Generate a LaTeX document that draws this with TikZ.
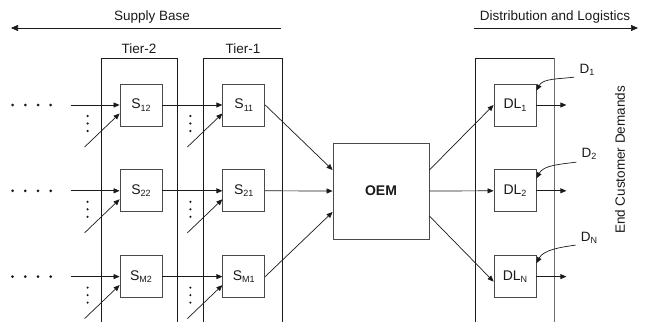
\documentclass[tikz,border=0pt]{standalone}
\usepackage{fontspec}
\setmainfont{Liberation Sans}
\usepackage{tikz}
\usetikzlibrary{arrows.meta, positioning, calc}
\definecolor{boxgray}{HTML}{4A4A4A}
\definecolor{linedark}{HTML}{1A1A1A}
\newcommand{\idx}[1]{\raisebox{-0.35ex}{\fontsize{9}{9}\selectfont #1}}
\tikzstyle{firm} = [rectangle, minimum width=42pt, minimum height=42pt, inner sep=0pt, draw=boxgray, line width=0.8pt, fill=white, text=linedark, font=\fontsize{14}{16}\selectfont]
\tikzstyle{hub} = [firm, minimum width=96pt, minimum height=96pt, font=\fontsize{14}{16}\selectfont\bfseries]
\tikzstyle{headtext} = [inner sep=0pt, text=linedark, font=\fontsize{13.5}{16}\selectfont]
\tikzstyle{arrow} = [line width=0.7pt, -{Triangle[length=6pt,width=5pt]}, color=linedark]
\tikzstyle{tier} = [line width=0.8pt, draw=linedark]

\begin{document}
\begin{tikzpicture}[x=1pt, y=1pt]
    \useasboundingbox (0,0) rectangle (645,322);

    % Banners
    \node[headtext] (sb) at (152,305) {Supply Base};
    \coordinate (sbR) at (281,294);
    \coordinate (sbL) at (11,294);
    \draw[arrow, -{Triangle[length=7pt,width=6pt]}] (sbR) -- (sbL);
    \node[headtext] (dist) at (555,305) {Distribution and Logistics};
    \coordinate (distL) at (474,294);
    \coordinate (distR) at (638,294);
    \draw[arrow, -{Triangle[length=7pt,width=6pt]}] (distL) -- (distR);

    % Tier columns
    \draw[tier] (101,0) -- (101,264) -- (177,264) -- (177,0);
    \draw[tier] (203,0) -- (203,264) -- (282,264) -- (282,0);
    \draw[tier] (475,0) -- (475,264) -- (554,264);
    \draw[tier, draw=boxgray!80] (554,264) -- (554,0);
    \node[headtext] (t2) at (139,273) {Tier-2};
    \node[headtext] (t1) at (243,273) {Tier-1};

    % Suppliers
    \node[firm] (s12) at (141,217) {S\idx{12}};
    \node[firm, right=60pt of s12] (s11) {S\idx{11}};
    \node[firm, below=43pt of s12] (s22) {S\idx{22}};
    \node[firm, right=60pt of s22] (s21) {S\idx{21}};
    \node[firm, below=43pt of s22] (sm2) {S\idx{M2}};
    \node[firm, right=60pt of sm2] (sm1) {S\idx{M1}};

    % OEM
    \node[hub] (oem) at (381,131) {OEM};

    % Distribution and logistics
    \node[firm] (dl1) at (515,217) {DL\idx{1}};
    \node[firm, below=43pt of dl1] (dl2) {DL\idx{2}};
    \node[firm, below=43pt of dl2] (dlN) {DL\idx{N}};

    % Demands
    \node[headtext] (d1) at (587,252) {D\idx{1}};
    \node[headtext] (d2) at (589,168) {D\idx{2}};
    \node[headtext] (dn) at (589,84) {D\idx{N}};
    \node[headtext, rotate=90] (ecd) at (620,162) {End Customer Demands};

    % Upstream inputs
    \foreach \a in {s12,s22,sm2} {
        \foreach \k in {0,...,3}
            \fill[linedark] ($(\a.west)+(-107+12.7*\k,0)$) circle (1.5pt);
        \coordinate (\a-in) at ($(\a.west)+(-49,0)$);
        \draw[arrow] (\a-in) -- (\a.west);
    }
    \foreach \a in {s12,s11,s22,s21,sm2,sm1} {
        \foreach \k in {0,1,2}
            \fill[linedark] ($(\a.west)+(-32,-11-7.5*\k)$) circle (1.2pt);
        \coordinate (\a-up) at ($(\a.west)+(-35,-42)$);
        \draw[arrow] (\a-up) -- ($(\a.west)+(0,-8.5)$);
    }

    % Arrows
    \draw[arrow] (s12) -- (s11);
    \draw[arrow] (s22) -- (s21);
    \draw[arrow] (sm2) -- (sm1);
    \draw[arrow] (s11.east) -- ($(oem.west)+(0,21)$);
    \draw[arrow] (s21.east) -- (oem.west);
    \draw[arrow] (sm1.east) -- ($(oem.west)+(0,-21)$);
    \draw[arrow] ($(oem.east)+(0,21)$) -- (dl1.west);
    \draw[arrow] (oem.east) -- (dl2.west);
    \draw[arrow] ($(oem.east)+(0,-25)$) -- ($(dlN.west)+(0,-5)$);
    \foreach \d in {dl1,dl2,dlN} {
        \coordinate (\d-out) at ($(\d.east)+(30,0)$);
        \draw[arrow] (\d.east) -- (\d-out);
    }
    \draw[arrow] ($(d1.south west)+(-5,-1)$) to[out=188, in=62, looseness=0.9] ($(dl1.north east)+(0,-7)$);
    \draw[arrow] ($(d2.south west)+(-5,-2)$) to[out=188, in=62, looseness=0.9] ($(dl2.north east)+(0,-9)$);
    \draw[arrow] ($(dn.south west)+(-5,-1)$) to[out=188, in=62, looseness=0.9] ($(dlN.north east)+(0,-8)$);
\end{tikzpicture}
\end{document}
